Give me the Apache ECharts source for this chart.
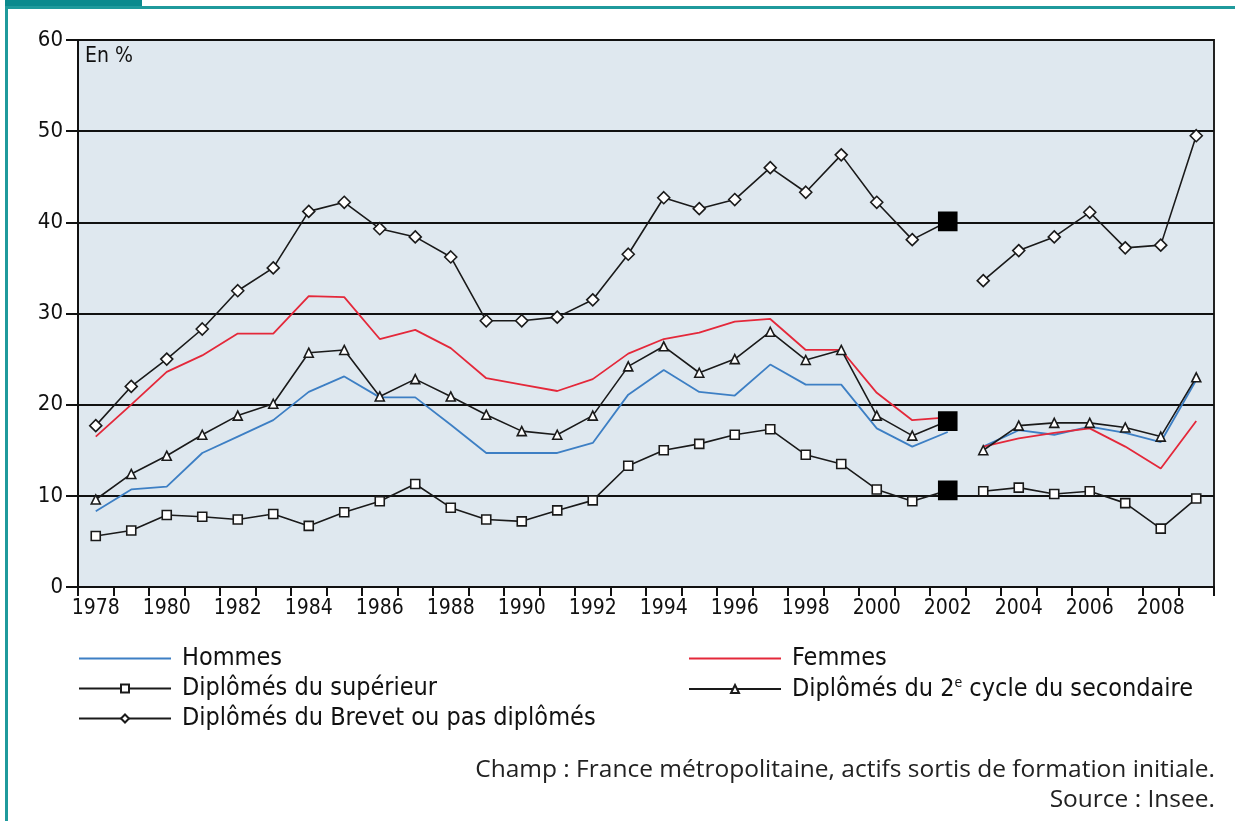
<!DOCTYPE html>
<html><head><meta charset="utf-8">
<script src="https://cdn.jsdelivr.net/npm/echarts@6/dist/echarts.min.js"></script>
<style>html,body{margin:0;padding:0;background:#fff}#c{width:1235px;height:821px}</style>
</head><body><div id="c"></div>
<script>
const years = ['1978','1979','1980','1981','1982','1983','1984','1985','1986','1987','1988','1989','1990','1991','1992','1993','1994','1995','1996','1997','1998','1999','2000','2001','2002','2003','2004','2005','2006','2007','2008','2009'];
const yTicks = [0,10,20,30,40,50,60];
const hommes = [8.3,10.7,11.0,14.7,16.5,18.3,21.4,23.1,20.8,20.8,17.8,14.7,14.7,14.7,15.8,21.1,23.8,21.4,21.0,24.4,22.2,22.2,17.4,15.4,17.0,15.4,17.2,16.7,17.6,16.9,15.9,22.7];
const femmes = [16.5,20.0,23.6,25.4,27.8,27.8,31.9,31.8,27.2,28.2,26.2,22.9,22.2,21.5,22.8,25.6,27.2,27.9,29.1,29.4,26.0,26.0,21.3,18.3,18.6,15.4,16.3,16.9,17.4,15.4,13.0,18.2];
const superieur = [5.6,6.2,7.9,7.7,7.4,8.0,6.7,8.2,9.4,11.3,8.7,7.4,7.2,8.4,9.5,13.3,15.0,15.7,16.7,17.3,14.5,13.5,10.7,9.4,10.6,10.5,10.9,10.2,10.5,9.2,6.4,9.7];
const secondaire = [9.6,12.4,14.4,16.7,18.8,20.1,25.7,26.0,20.9,22.8,20.9,18.9,17.1,16.7,18.8,24.2,26.4,23.5,25.0,28.0,24.9,26.0,18.8,16.6,18.2,15.0,17.7,18.0,18.0,17.5,16.5,23.0];
const brevet = [17.7,22.0,25.0,28.3,32.5,35.0,41.2,42.2,39.3,38.4,36.2,29.2,29.2,29.6,31.5,36.5,42.7,41.5,42.5,46.0,43.3,47.4,42.2,38.1,40.1,33.6,36.9,38.4,41.1,37.2,37.5,49.5];
const breakYear = '2002';
const names = {
  hommes: 'Hommes', femmes: 'Femmes', sup: 'Diplômés du supérieur',
  sec: 'Diplômés du 2e cycle du secondaire', brev: 'Diplômés du Brevet ou pas diplômés'
};

const bi = years.indexOf(breakYear);
function part1(arr, mark) {
  return arr.map((v, i) => {
    if (i > bi) return null;
    if (i === bi && mark) return {value: v, symbol: 'rect', symbolSize: 18, itemStyle: {color: '#000', borderColor: '#000'}};
    return v;
  });
}
function part2(arr) { return arr.map((v, i) => i > bi ? v : null); }

function plain(name, arr, color) {
  const base = {type: 'line', name: name, symbol: 'none', showSymbol: false, lineStyle: {color: color, width: 1.8}, itemStyle: {color: color}, z: 2, animation: false};
  return [Object.assign({}, base, {data: part1(arr, false)}), Object.assign({}, base, {data: part2(arr)})];
}
function marked(name, arr, sym, size) {
  const base = {type: 'line', name: name, symbol: sym, symbolSize: size, showAllSymbol: true,
    lineStyle: {color: '#1a1a1a', width: 1.6}, itemStyle: {color: '#fff', borderColor: '#1a1a1a', borderWidth: 1.6}, z: 3, animation: false};
  return [Object.assign({}, base, {data: part1(arr, true)}), Object.assign({}, base, {data: part2(arr)})];
}

const series = [].concat(
  plain(names.hommes, hommes, '#3d7fc4'),
  plain(names.femmes, femmes, '#e4283a'),
  marked(names.sup, superieur, 'rect', 9),
  marked(names.sec, secondaire, 'triangle', 9),
  marked(names.brev, brevet, 'diamond', 12)
);

const font = '"DejaVu Sans Condensed","Liberation Sans Narrow","Noto Sans",sans-serif';
const legendText = {fontFamily: font, fontSize: 25, color: '#111', padding: [0, 0, 0, 6],
  rich: {sup: {fontFamily: font, fontSize: 14, color: '#111', verticalAlign: 'top', padding: [0, 0, 12, 0]},
         t: {fontFamily: font, fontSize: 25, color: '#111'}}};
function legFmt(n) {
  if (n === names.sec) return '{t|Diplômés du 2}{sup|e}{t| cycle du secondaire}';
  return n;
}

const chart = echarts.init(document.getElementById('c'), null, {renderer: 'canvas'});
chart.setOption({
  animation: false,
  backgroundColor: '#fff',
  grid: {left: 78, right: 21, top: 40, bottom: 234, show: true, backgroundColor: '#dfe8ef', borderColor: '#222', borderWidth: 2},
  xAxis: {
    type: 'category', data: years, boundaryGap: true,
    axisLine: {lineStyle: {color: '#111', width: 2}},
    axisTick: {show: true, interval: 0, length: 9, lineStyle: {color: '#111', width: 2}},
    axisLabel: {interval: 1, fontFamily: font, fontSize: 21, color: '#111', margin: 11}
  },
  yAxis: {
    type: 'value', min: yTicks[0], max: yTicks[yTicks.length - 1], interval: 10,
    axisLine: {show: true, lineStyle: {color: '#111', width: 2}},
    axisTick: {show: true, length: 12, lineStyle: {color: '#111', width: 2}},
    axisLabel: {fontFamily: font, fontSize: 22, color: '#111', margin: 15},
    splitLine: {show: true, lineStyle: {color: '#111', width: 2}}
  },
  legend: [
    {data: [{name: names.hommes, itemStyle: {opacity: 0}}, names.sup, names.brev], orient: 'vertical', left: 73, top: 641, itemWidth: 92, itemHeight: 10, itemGap: 5,
      textStyle: legendText, formatter: legFmt, selectedMode: false},
    {data: [{name: names.femmes, itemStyle: {opacity: 0}}, names.sec], orient: 'vertical', left: 683, top: 641, itemWidth: 92, itemHeight: 10, itemGap: 5,
      textStyle: legendText, formatter: legFmt, selectedMode: false}
  ],
  graphic: [
    {type: 'rect', left: 5, top: 0, shape: {width: 137, height: 8}, style: {fill: '#0b8a8e'}, silent: true},
    {type: 'rect', left: 5, top: 6, shape: {width: 1230, height: 3}, style: {fill: '#1f9a9c'}, silent: true},
    {type: 'rect', left: 5, top: 6, shape: {width: 3, height: 815}, style: {fill: '#1f9a9c'}, silent: true},
    {type: 'text', left: 85, top: 46, style: {text: 'En %', font: '21px ' + font, fill: '#111'}, z: 10},
    {type: 'text', right: 20, top: 758, style: {text: 'Champ : France métropolitaine, actifs sortis de formation initiale.', font: '24.5px "Open Sans","Noto Sans",sans-serif', fill: '#222', align: 'right'}},
    {type: 'text', right: 20, top: 788, style: {text: 'Source : Insee.', font: '24.5px "Open Sans","Noto Sans",sans-serif', fill: '#222', align: 'right'}}
  ],
  series: series
});
</script></body></html>
